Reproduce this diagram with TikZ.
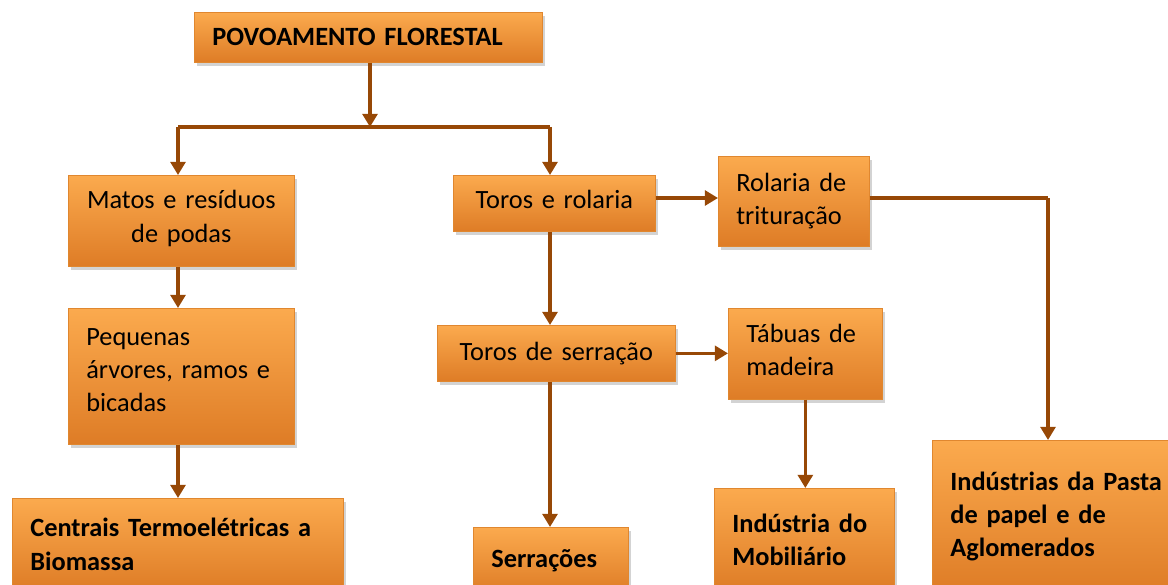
\documentclass[tikz,border=0pt]{standalone}
\usepackage{fontspec}
\setmainfont{Carlito}
\usepackage{tikz}
\usetikzlibrary{arrows.meta,shadows}

\definecolor{boxtop}{HTML}{FBAA4E}
\definecolor{boxmid}{HTML}{F79646}
\definecolor{boxbot}{HTML}{DE7C26}
\definecolor{boxedge}{HTML}{E0872F}
\definecolor{flow}{HTML}{974806}

\tikzset{
  box/.style={rectangle, anchor=north west, draw=boxedge, line width=0.4pt,
    top color=boxtop, middle color=boxmid, bottom color=boxbot,
    drop shadow={opacity=0.35, shadow xshift=1.5pt, shadow yshift=-2pt},
    inner xsep=0.36cm, inner ysep=0pt, align=left,
    font=\fontsize{15}{18.8}\selectfont},
  endbox/.style={box, font=\fontsize{15}{18.8}\selectfont\bfseries},
  flowline/.style={draw=flow, line width=1.8pt},
  flowarrow/.style={flowline, -{Triangle[width=8.5pt,length=7.5pt]}}
}

\begin{document}
\begin{tikzpicture}[x=0.02cm, y=-0.02cm]
  \useasboundingbox (0,0) rectangle (1168,584);

  % boxes
  \node[box, font=\fontsize{15}{18.8}\selectfont\bfseries, minimum width=6.96cm, minimum height=1.0cm, text width=6.24cm] (pov) at (194,12) {POVOAMENTO FLORESTAL};
  \node[box, align=center, minimum width=4.52cm, minimum height=1.82cm, text width=3.8cm, text depth=0.84cm] (matos) at (68,175) {Matos e resíduos\\de podas};
  \node[box, minimum width=4.52cm, minimum height=2.72cm, text width=3.8cm, text depth=1.58cm] (peq) at (68,308) {Pequenas\\árvores, ramos e\\bicadas};
  \node[endbox, minimum width=6.62cm, minimum height=1.84cm, text width=5.9cm] (cent) at (12,498) {Centrais Termoelétricas a\\Biomassa};
  \node[box, align=center, minimum width=4.04cm, minimum height=1.12cm, text width=3.32cm, text depth=0.15cm] (toros) at (453,175) {Toros e rolaria};
  \node[box, minimum width=3.02cm, minimum height=1.8cm, text width=2.3cm] (trit) at (718,156) {Rolaria de\\trituração};
  \node[box, align=center, minimum width=4.76cm, minimum height=1.12cm, text width=4.04cm] (serr) at (437,325) {Toros de serração};
  \node[box, minimum width=3.08cm, minimum height=1.82cm, text width=2.36cm, text depth=0.83cm] (tab) at (728,308) {Tábuas de\\madeira};
  \node[endbox, minimum width=3.6cm, minimum height=2.06cm, text width=2.88cm] (mob) at (714,488) {Indústria do\\Mobiliário};
  \node[endbox, minimum width=3.1cm, minimum height=1.32cm, text width=2.38cm] (serrac) at (473,527) {Serrações};
  \node[endbox, minimum width=5.2cm, minimum height=3.04cm, text width=4.48cm] (pasta) at (932,440) {Indústrias da Pasta\\de papel e de\\Aglomerados};

  % split below the top box
  \coordinate (split) at (370,127);
  \coordinate (lft) at (178,127);
  \coordinate (rgt) at (550,127);
  \coordinate (bend) at (1048,198);

  \draw[flowarrow] (pov.south -| split) -- (split);
  \draw[flowline] (lft) -- (rgt);
  \draw[flowarrow] (lft) -- (lft |- matos.north);
  \draw[flowarrow] (rgt) -- (rgt |- toros.north);

  % left column
  \draw[flowarrow] (lft |- matos.south) -- (lft |- peq.north);
  \draw[flowarrow] (lft |- peq.south) -- (lft |- cent.north);

  % middle column
  \draw[flowarrow] (rgt |- toros.south) -- (rgt |- serr.north);
  \draw[flowarrow] (rgt |- serr.south) -- (rgt |- serrac.north);
  \draw[flowarrow] (toros.east |- bend) -- (trit.west |- bend);
  \draw[flowarrow] (serr.east) -- (tab.west |- serr.east);
  \draw[flowarrow] (tab.south) -- (tab.south |- mob.north);

  % right column
  \draw[flowline] (trit.east |- bend) -- (bend);
  \draw[flowarrow] (bend) -- (bend |- pasta.north);
\end{tikzpicture}
\end{document}
